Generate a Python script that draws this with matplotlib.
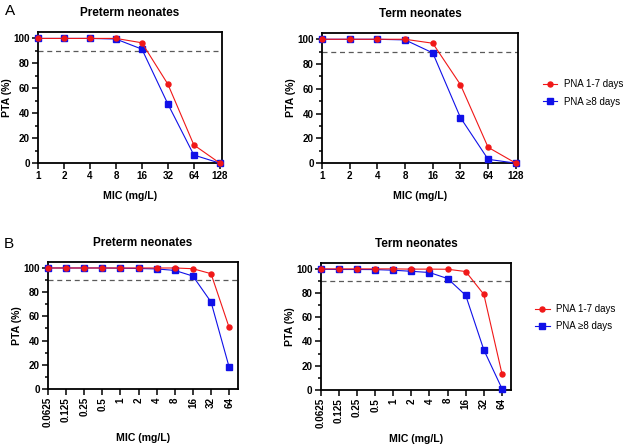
import matplotlib
matplotlib.use('Agg')
import matplotlib.pyplot as plt
from matplotlib.ticker import MultipleLocator, FixedLocator, NullLocator

plt.rcParams['font.family'] = ['Liberation Sans', 'DejaVu Sans']

# --- data ---
mic_a = [1, 2, 4, 8, 16, 32, 64, 128]
mic_a_labels = ['1', '2', '4', '8', '16', '32', '64', '128']
pre_a_early = [100, 100, 100, 100, 96.5, 63.3, 14.6, 0]
pre_a_late = [100, 100, 100, 99.5, 91.4, 47.4, 6.5, 0]
term_a_early = [100, 100, 100, 100, 96.8, 63.4, 12.8, 0]
term_a_late = [100, 100, 100, 99.5, 89, 36.8, 3.1, 0]

mic_b = [0.0625, 0.125, 0.25, 0.5, 1, 2, 4, 8, 16, 32, 64]
mic_b_labels = ['0.0625', '0.125', '0.25', '0.5', '1', '2', '4', '8', '16', '32', '64']
pre_b_early = [100, 100, 100, 100, 100, 100, 100, 100, 99.4, 95.3, 50.8]
pre_b_late = [100, 100, 100, 100, 99.8, 99.6, 99.2, 98, 93.3, 71.9, 18]
term_b_early = [100, 100, 100, 100, 100, 99.8, 99.8, 99.7, 97.8, 78.9, 13.3]
term_b_late = [99.7, 99.5, 99.5, 99.4, 98.9, 98, 97, 92, 78.1, 33, 1]

target = 90
red = '#f01818'
blue = '#1010e8'

fig = plt.figure(figsize=(6.34, 4.47), dpi=100)


def panel(rect, mic, labels, early, late, title, rotate, xmax):
    ax = fig.add_axes(rect)
    ax.axhline(target, color='#5a5a5a', lw=0.9, ls=(0, (4, 3)), zorder=1)
    l2, = ax.plot(mic, late, color=blue, lw=0.8, marker='s', ms=4.2,
                  clip_on=False, zorder=3)
    l1, = ax.plot(mic, early, color=red, lw=0.8, marker='o', ms=3.6,
                  clip_on=False, zorder=4)
    ax.set_xscale('log', base=2)
    ax.set_xlim(mic[0], xmax)
    ax.set_ylim(0, 105)
    ax.xaxis.set_major_locator(FixedLocator(mic))
    ax.xaxis.set_minor_locator(NullLocator())
    ax.set_xticklabels(labels, rotation=90 if rotate else 0)
    ax.yaxis.set_major_locator(MultipleLocator(20))
    ax.yaxis.set_minor_locator(MultipleLocator(10))
    for tl in ax.get_xticklabels() + ax.get_yticklabels():
        tl.set_fontweight('bold')
    ax.tick_params(which='major', length=4, width=1.1, labelsize=7.1, pad=2)
    ax.tick_params(which='minor', length=2.5, width=1.1)
    for s in ax.spines.values():
        s.set_linewidth(1.3)
    ax.set_title(title, fontsize=8.5, fontweight='bold', pad=11.5)
    ax.set_xlabel('MIC (mg/L)', fontsize=7.6, fontweight='bold',
                  labelpad=4 if rotate else 7)
    ax.set_ylabel('PTA (%)', fontsize=7.6, fontweight='bold', labelpad=1)
    return ax, l1, l2


panel([0.060, 0.635, 0.290, 0.293], mic_a, mic_a_labels, pre_a_early, pre_a_late,
      'Preterm neonates', False, 128 * 2 ** 0.08)
ax, l1, l2 = panel([0.508, 0.635, 0.309, 0.291], mic_a, mic_a_labels, term_a_early,
                   term_a_late, 'Term neonates', False, 128 * 2 ** 0.08)
fig.legend([l1, l2], ['PNA 1-7 days', 'PNA \u22658 days'], loc='center left',
           bbox_to_anchor=(0.842, 0.792), frameon=False, fontsize=7,
           handlelength=1.5, handletextpad=0.7, labelspacing=0.75)

panel([0.0757, 0.130, 0.300, 0.284], mic_b, mic_b_labels, pre_b_early, pre_b_late,
      'Preterm neonates', True, 64 * 2 ** 0.5)
ax, l1, l2 = panel([0.506, 0.128, 0.300, 0.284], mic_b, mic_b_labels, term_b_early,
                   term_b_late, 'Term neonates', True, 64 * 2 ** 0.5)
fig.legend([l1, l2], ['PNA 1-7 days', 'PNA \u22658 days'], loc='center left',
           bbox_to_anchor=(0.830, 0.289), frameon=False, fontsize=7,
           handlelength=1.5, handletextpad=0.7, labelspacing=0.75)

fig.text(0.008, 0.975, 'A', fontsize=11, va='center', ha='left')
fig.text(0.006, 0.455, 'B', fontsize=11, va='center', ha='left')

fig.savefig('out.png', dpi=100)
